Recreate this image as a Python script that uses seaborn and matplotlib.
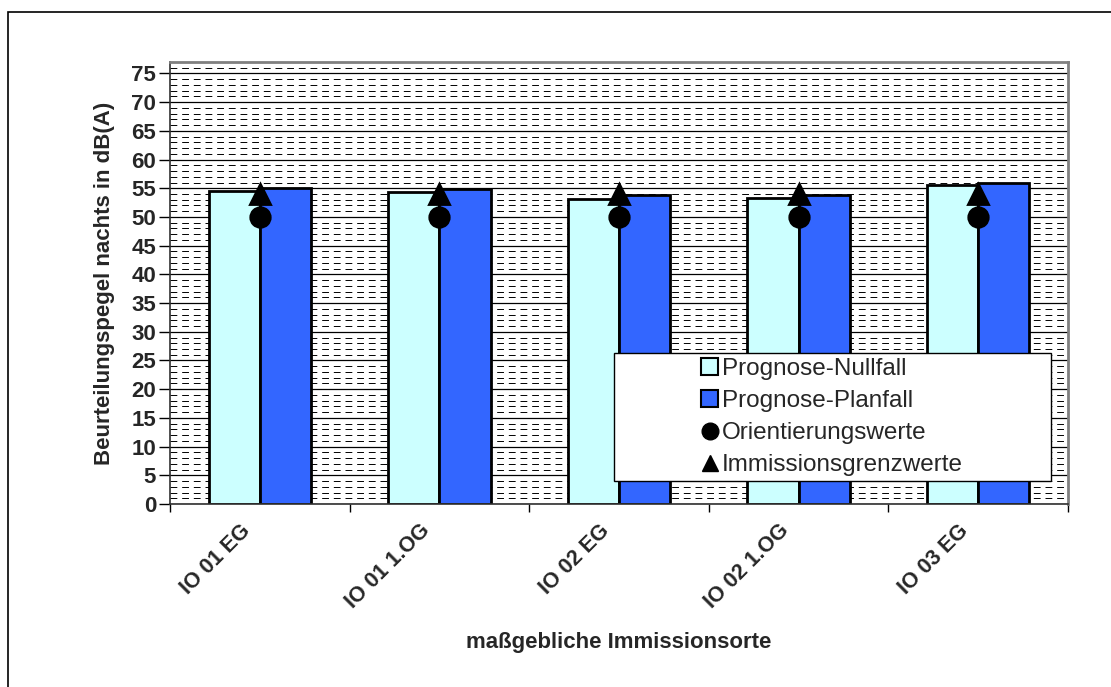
import numpy as np
import pandas as pd
import seaborn as sns
import matplotlib.pyplot as plt
import matplotlib.transforms as mtransforms
from matplotlib.patches import Patch, Rectangle
from matplotlib.lines import Line2D

# Werte
orte = ['IO 01 EG', 'IO 01 1.OG', 'IO 02 EG', 'IO 02 1.OG', 'IO 03 EG']
nullfall = [54.5, 54.4, 53.2, 53.3, 55.5]
planfall = [55.1, 54.9, 53.8, 53.8, 56.0]
orientierungswerte = [50, 50, 50, 50, 50]
grenzwerte = [54, 54, 54, 54, 54]

serien = ['Prognose-Nullfall', 'Prognose-Planfall']
farben = ['#CCFFFF', '#3366FF']

df = pd.DataFrame({
    'ort': orte * 2,
    'pegel': nullfall + planfall,
    'fall': [serien[0]] * len(orte) + [serien[1]] * len(orte),
})
df_ow = pd.DataFrame({'ort': orte, 'wert': orientierungswerte})
df_gw = pd.DataFrame({'ort': orte, 'wert': grenzwerte})

sns.set_style('white')
plt.rcParams['font.family'] = ['Liberation Sans', 'DejaVu Sans']

fig = plt.figure(figsize=(11.11, 6.87), dpi=100)
ax = fig.add_axes([0.153, 0.2664, 0.8083, 0.6434])

sns.barplot(data=df, x='ort', y='pegel', hue='fall', order=orte,
            hue_order=serien, palette=farben, width=0.57, dodge=True,
            edgecolor='black', linewidth=2, saturation=1, ax=ax, legend=False)

sns.pointplot(data=df_ow, x='ort', y='wert', order=orte, color='black',
              markers='o', linestyle='none', markersize=14, errorbar=None, ax=ax)
sns.pointplot(data=df_gw, x='ort', y='wert', order=orte, color='black',
              markers='^', linestyle='none', markersize=14, errorbar=None, ax=ax)

ax.set_ylim(0, 77)
ax.set_xlim(-0.5, len(orte) - 0.5)
ax.set_yticks(np.arange(0, 80, 5))
ax.set_yticks(np.arange(0, 77, 1), minor=True)
ax.set_xticks(np.arange(-0.5, len(orte), 1), minor=True)

ax.set_axisbelow(True)
ax.grid(axis='y', which='major', color='black', linewidth=0.9)
ax.grid(axis='y', which='minor', color='black', linewidth=0.7, linestyle=(0, (7, 5)))
ax.grid(axis='x', which='both', visible=False)

ax.tick_params(axis='y', which='major', length=8, width=1, color='black', left=True,
               labelsize=16, pad=2)
ax.tick_params(axis='y', which='minor', length=0)
ax.tick_params(axis='x', which='major', length=0, labelsize=15.5, pad=17)
ax.tick_params(axis='x', which='minor', length=6, width=1, color='black', bottom=True)

for lbl in ax.get_yticklabels():
    lbl.set_fontweight('bold')
verschiebung = mtransforms.ScaledTranslation(-9 / 72, 0, fig.dpi_scale_trans)
for lbl in ax.get_xticklabels():
    lbl.set_fontweight('bold')
    lbl.set_rotation(45)
    lbl.set_ha('right')
    lbl.set_va('center')
    lbl.set_rotation_mode('anchor')
    lbl.set_transform(lbl.get_transform() + verschiebung)

ax.set_xlabel('maßgebliche Immissionsorte', fontsize=16, fontweight='bold', labelpad=14)
ax.set_ylabel('Beurteilungspegel nachts in dB(A)', fontsize=16, fontweight='bold', labelpad=12)

for s in ['top', 'right']:
    ax.spines[s].set_color('#808080')
    ax.spines[s].set_linewidth(2)
for s in ['left', 'bottom']:
    ax.spines[s].set_color('#303030')
    ax.spines[s].set_linewidth(1.2)

# Legende
ax.add_patch(Rectangle((0.494, 0.052), 0.487, 0.29, transform=ax.transAxes,
                       facecolor='white', edgecolor='black', linewidth=1, zorder=5))
handles = [
    Patch(facecolor=farben[0], edgecolor='black', linewidth=1.5),
    Patch(facecolor=farben[1], edgecolor='black', linewidth=1.5),
    Line2D([], [], marker='o', color='black', linestyle='none', markersize=12),
    Line2D([], [], marker='^', color='black', linestyle='none', markersize=12),
]
labels = serien + ['Orientierungswerte', 'Immissionsgrenzwerte']
leg = ax.legend(handles, labels, loc='center', bbox_to_anchor=(0.7375, 0.197),
                frameon=False, fontsize=17.5, handlelength=0.7, handleheight=0.7,
                handletextpad=0.15, labelspacing=0.42, borderpad=0)
leg.set_zorder(6)

# Rahmen um die Grafik
fig.patches.append(Rectangle((8 / 1111, -0.1), 1.2, 1.1 - 12 / 687,
                             transform=fig.transFigure, facecolor='none',
                             edgecolor='black', linewidth=1.2))

fig.savefig('out.png', dpi=100)
